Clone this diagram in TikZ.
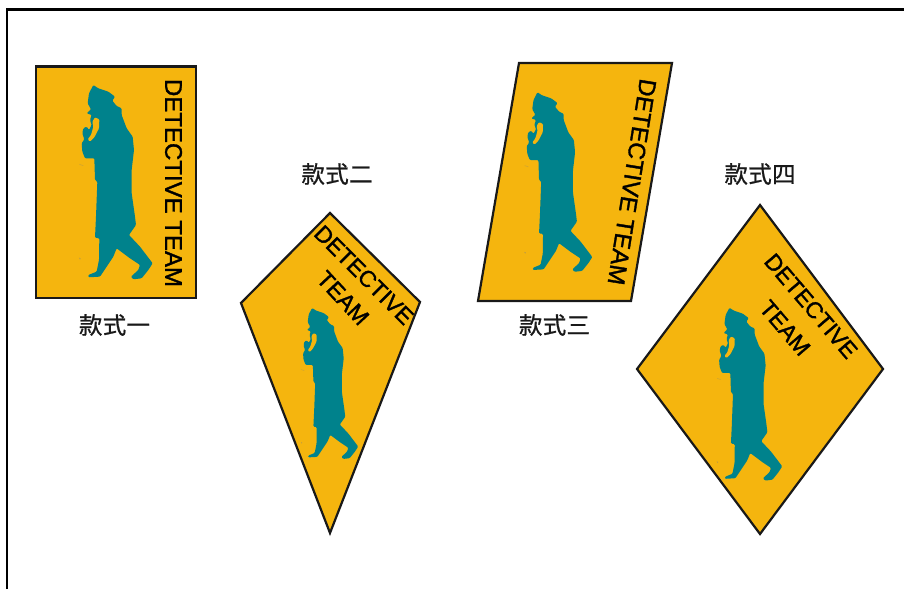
\documentclass[tikz,border=0pt]{standalone}
\usepackage{fontspec}
\setmainfont{Liberation Sans}
\newfontfamily\signfont[FakeBold=1.4]{Liberation Sans}
\newfontfamily\cjk[FakeBold=0.8]{Noto Sans CJK SC}
\definecolor{signyellow}{HTML}{F5B50E}
\definecolor{figteal}{HTML}{00828C}
\tikzset{
  sign/.style={fill=signyellow,draw=black!90,line width=2.2pt,line join=miter},
  signtext/.style={font=\signfont\fontsize{24}{25}\selectfont,text=black,inner sep=0pt,align=center},
  signtextsmall/.style={signtext,font=\signfont\fontsize{23}{24}\selectfont},
  caption/.style={font=\cjk\fontsize{23.5}{24}\selectfont,text=black!90,inner sep=0pt}
}
\newcommand{\detective}{%
  \fill[figteal,rounded corners=1pt] (100,45)--(115,55)--(145,65)--(165,80)--(157,92)--(170,108)--(185,115)--(185,135)--(200,175)
    --(218,200)--(222,240)--(215,300)--(215,370)--(225,440)--(228,465)--(207,495)--(240,530)
    --(278,580)--(265,600)--(245,625)--(220,628)--(213,620)--(235,600)--(240,585)--(210,565)
    --(170,535)--(160,560)--(140,590)--(120,620)--(85,622)--(85,615)--(110,605)--(117,570)
    --(118,505)--(105,503)--(108,440)--(112,335)--(105,330)--(103,265)--(75,265)--(67,245)
    --(65,220)--(73,208)--(67,190)--(70,175)--(80,170)--(87,180)--(95,165)--(90,150)--(95,135)
    --(80,130)--(93,118)--(83,100)--(87,70)--cycle;
  \fill[signyellow,rounded corners=1pt] (105,142)--(118,148)--(117,175)--(103,202)--(90,215)--(83,208)--(93,195)--(100,170)--(97,155)--cycle;
  \fill[signyellow!70!gray] (58,282)--(70,286)--(70,288)--(58,284)--cycle;
  \fill[signyellow!50!gray] (57,563)--(62,565)--(60,569)--cycle;
}
\begin{document}
\begin{tikzpicture}[x=1pt,y=-1pt]
\useasboundingbox (0,0) rectangle (904,589);
\draw[line width=2.2pt,black] (7,589)--(7,9.5)--(904,9.5);
% style one
\draw[sign] (36,66.5)--(196,66.5)--(196,298)--(36,298)--cycle;
\begin{scope}[shift={(60,70)},scale=0.3333]\detective\end{scope}
\node[signtext,rotate=-90] (t1) at (173.5,183) {DETECTIVE TEAM};
\node[caption] (c1) at (114.5,325) {款\hspace{.3pt}式\hspace{.3pt}一};
% style two
\draw[sign] (330,213)--(420,302)--(330,533)--(241,303)--cycle;
\begin{scope}[shift={(286.2,296.3)},scale=0.259]\detective\end{scope}
\node[signtextsmall,rotate=-45] (t2a) at (364,275) {DETECTIVE};
\node[signtextsmall,rotate=-47] (t2b) at (343,298) {TEAM};
\node[caption] (c2) at (337,174) {款\hspace{.3pt}式\hspace{.3pt}二};
% style three
\draw[sign] (519,63)--(672,63)--(631,301)--(478,301)--cycle;
\begin{scope}[shift={(506.7,78.4)},scale=0.308]\detective\end{scope}
\node[signtext,rotate=-99] (t3) at (632,182) {DETECTIVE TEAM};
\node[caption] (c3) at (554.5,325) {款\hspace{.3pt}式\hspace{.3pt}三};
% style four
\draw[sign] (760,205)--(883,369)--(760,534)--(637,369)--cycle;
\begin{scope}[shift={(699.8,294.4)},scale=0.2965]\detective\end{scope}
\node[signtextsmall,rotate=-49.5] (t4a) at (811,306) {DETECTIVE};
\node[signtextsmall,rotate=-49.5] (t4b) at (785,328) {TEAM};
\node[caption] (c4) at (760,174) {款\hspace{.3pt}式\hspace{.3pt}四};
\end{tikzpicture}
\end{document}
